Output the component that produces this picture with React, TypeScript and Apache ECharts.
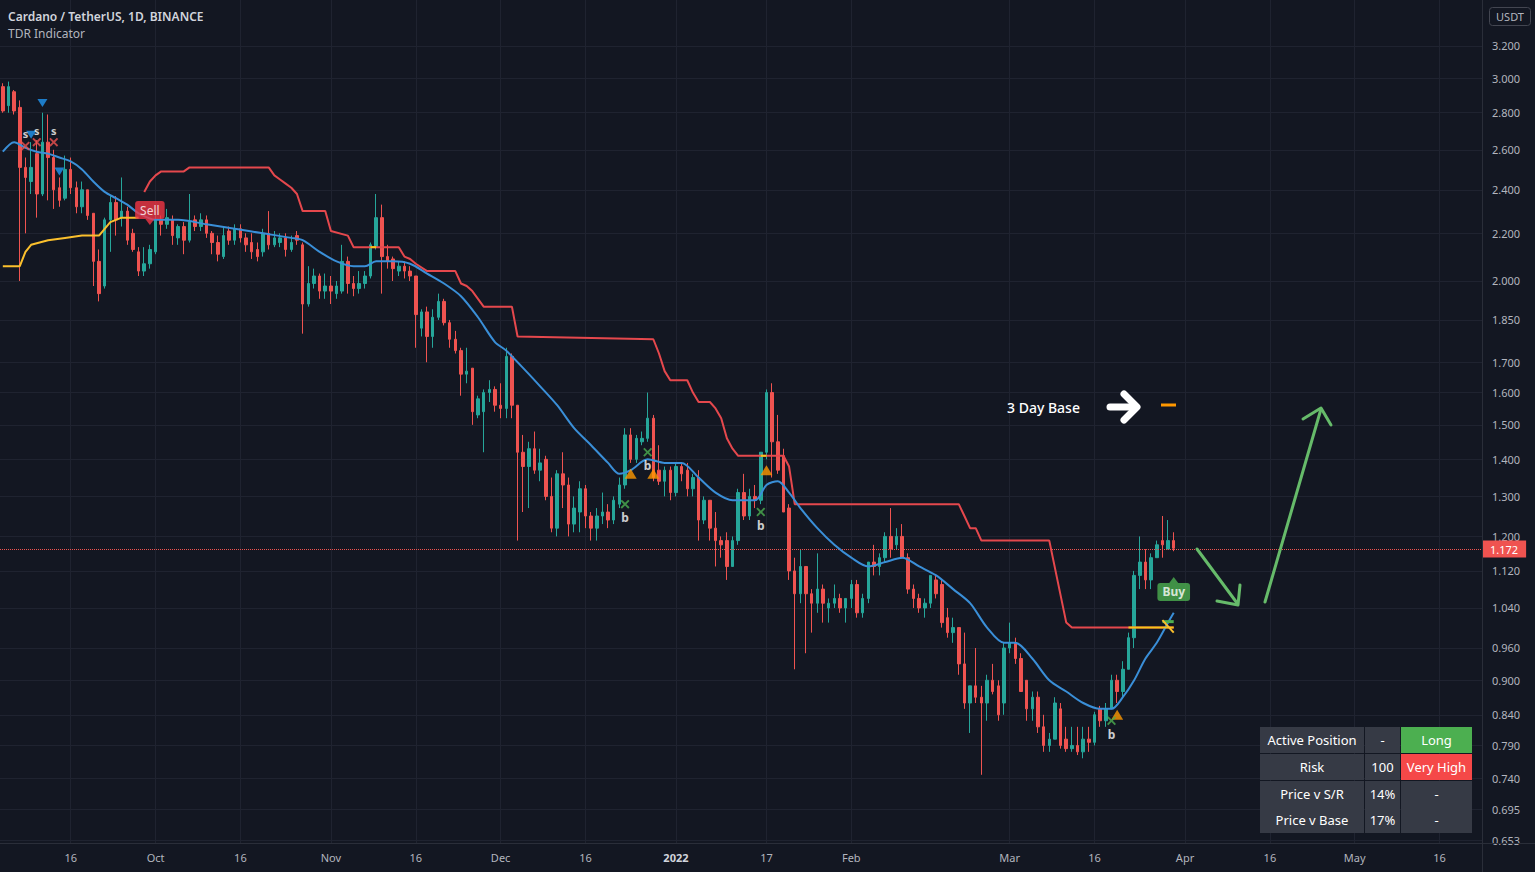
import React, { useEffect, useRef } from "react";
import * as echarts from "echarts";

const FONT = '"Noto Sans", "DejaVu Sans", sans-serif';
const BG = "#131722";
const TXT = "#b2b5be";
const GRID = "#1f2330";
const UP = "#26a69a";
const DOWN = "#ef5350";

const firstDay = "2021-09-04";
const dayCount = 262;

function makeCategories(start: string, n: number): string[] {
  const out: string[] = [];
  const t0 = Date.parse(start + "T00:00:00Z");
  for (let i = 0; i < n; i++) out.push(new Date(t0 + i * 86400000).toISOString().slice(0, 10));
  return out;
}
const categories = makeCategories(firstDay, dayCount);

const timeLabels: [string, string][] = [
  ["2021-09-16", "16"], ["2021-10-01", "Oct"], ["2021-10-16", "16"], ["2021-11-01", "Nov"],
  ["2021-11-16", "16"], ["2021-12-01", "Dec"], ["2021-12-16", "16"], ["2022-01-01", "2022"],
  ["2022-01-17", "17"], ["2022-02-01", "Feb"], ["2022-03-01", "Mar"], ["2022-03-16", "16"],
  ["2022-04-01", "Apr"], ["2022-04-16", "16"], ["2022-05-01", "May"], ["2022-05-16", "16"],
];

const priceTicks = [3.2, 3.0, 2.8, 2.6, 2.4, 2.2, 2.0, 1.85, 1.7, 1.6, 1.5, 1.4, 1.3, 1.2, 1.12, 1.04, 0.96, 0.9, 0.84, 0.79, 0.74, 0.695, 0.653];

// [open, close, low, high]
const sep = [
  [2.95, 2.81, 2.8, 2.97], [2.84, 2.95, 2.8, 2.98], [2.92, 2.81, 2.79, 2.93], [2.83, 2.51, 2.0, 2.87],
  [2.51, 2.46, 2.2, 2.56], [2.44, 2.51, 2.38, 2.64], [2.58, 2.38, 2.27, 2.65], [2.38, 2.64, 2.37, 2.8],
  [2.64, 2.56, 2.35, 2.79], [2.56, 2.4, 2.31, 2.6], [2.41, 2.35, 2.32, 2.46], [2.36, 2.5, 2.35, 2.57],
  [2.5, 2.41, 2.38, 2.56], [2.41, 2.32, 2.29, 2.44], [2.32, 2.4, 2.29, 2.44], [2.4, 2.28, 2.26, 2.4],
  [2.29, 2.08, 1.98, 2.29], [2.08, 1.95, 1.92, 2.13], [1.98, 2.26, 1.97, 2.27], [2.26, 2.34, 2.12, 2.37],
  [2.34, 2.26, 2.19, 2.37], [2.27, 2.3, 2.23, 2.46], [2.3, 2.17, 2.15, 2.32], [2.2, 2.13, 2.12, 2.22],
  [2.12, 2.04, 2.02, 2.14], [2.04, 2.07, 2.02, 2.14], [2.07, 2.13, 2.05, 2.15],
];
const oct = [
  [2.12, 2.26, 2.11, 2.3], [2.26, 2.24, 2.19, 2.28], [2.24, 2.27, 2.22, 2.31], [2.26, 2.19, 2.15, 2.28],
  [2.18, 2.23, 2.15, 2.24], [2.23, 2.17, 2.11, 2.25], [2.17, 2.25, 2.16, 2.38], [2.26, 2.23, 2.21, 2.28],
  [2.23, 2.26, 2.21, 2.29], [2.26, 2.2, 2.18, 2.28], [2.2, 2.16, 2.11, 2.21], [2.16, 2.11, 2.08, 2.19],
  [2.1, 2.19, 2.09, 2.23], [2.21, 2.17, 2.15, 2.23], [2.17, 2.22, 2.15, 2.24], [2.22, 2.18, 2.16, 2.24],
  [2.18, 2.15, 2.12, 2.2], [2.16, 2.12, 2.09, 2.2], [2.13, 2.1, 2.08, 2.16], [2.12, 2.2, 2.1, 2.22],
  [2.2, 2.15, 2.13, 2.3], [2.15, 2.18, 2.14, 2.21], [2.16, 2.18, 2.14, 2.2], [2.18, 2.13, 2.1, 2.2],
  [2.13, 2.16, 2.12, 2.19], [2.19, 2.17, 2.15, 2.21], [2.15, 1.91, 1.8, 2.16], [1.91, 1.99, 1.9, 2.06],
  [1.99, 2.02, 1.97, 2.05], [2.02, 1.96, 1.93, 2.03], [1.96, 1.98, 1.93, 2.03],
];
const nov = [
  [1.98, 1.96, 1.91, 2.02], [1.95, 1.98, 1.93, 2.0], [1.96, 2.08, 1.95, 2.15], [2.08, 1.99, 1.95, 2.1],
  [1.99, 1.97, 1.94, 2.02], [1.97, 1.99, 1.95, 2.04], [1.99, 2.02, 1.97, 2.04], [2.02, 2.15, 2.01, 2.16],
  [2.14, 2.27, 2.13, 2.38], [2.27, 2.1, 1.95, 2.33], [2.1, 2.08, 2.05, 2.15], [2.09, 2.05, 2.0, 2.1],
  [2.04, 2.06, 2.02, 2.08], [2.06, 2.04, 2.01, 2.08], [2.04, 2.02, 2.0, 2.06], [2.02, 1.87, 1.75, 2.02],
  [1.82, 1.88, 1.79, 1.89], [1.88, 1.79, 1.7, 1.9], [1.79, 1.86, 1.75, 1.89], [1.86, 1.92, 1.85, 1.95],
  [1.92, 1.84, 1.83, 1.93], [1.84, 1.78, 1.75, 1.85], [1.78, 1.74, 1.73, 1.81], [1.74, 1.66, 1.59, 1.75],
  [1.66, 1.67, 1.63, 1.75], [1.68, 1.54, 1.5, 1.68], [1.53, 1.58, 1.52, 1.59], [1.54, 1.6, 1.42, 1.61],
  [1.6, 1.61, 1.57, 1.64], [1.61, 1.56, 1.54, 1.62],
];
const dec = [
  [1.56, 1.55, 1.52, 1.63], [1.55, 1.72, 1.52, 1.75], [1.72, 1.56, 1.52, 1.73], [1.56, 1.42, 1.19, 1.56],
  [1.42, 1.38, 1.26, 1.47], [1.38, 1.43, 1.27, 1.45], [1.43, 1.37, 1.36, 1.48], [1.37, 1.39, 1.34, 1.43],
  [1.4, 1.3, 1.29, 1.41], [1.3, 1.22, 1.21, 1.35], [1.22, 1.36, 1.2, 1.37], [1.36, 1.33, 1.27, 1.42],
  [1.33, 1.23, 1.2, 1.35], [1.23, 1.27, 1.21, 1.3], [1.26, 1.32, 1.21, 1.34], [1.32, 1.25, 1.22, 1.33],
  [1.25, 1.22, 1.19, 1.26], [1.22, 1.25, 1.19, 1.27], [1.25, 1.26, 1.23, 1.31], [1.26, 1.24, 1.22, 1.28],
  [1.24, 1.29, 1.23, 1.3], [1.28, 1.33, 1.27, 1.35], [1.33, 1.47, 1.32, 1.49], [1.47, 1.4, 1.39, 1.49],
  [1.4, 1.46, 1.39, 1.47], [1.45, 1.46, 1.44, 1.48], [1.46, 1.52, 1.45, 1.6], [1.52, 1.35, 1.34, 1.53],
  [1.37, 1.34, 1.33, 1.44], [1.34, 1.37, 1.3, 1.38], [1.37, 1.31, 1.29, 1.38],
];
const jan = [
  [1.31, 1.38, 1.3, 1.39], [1.38, 1.36, 1.34, 1.39], [1.37, 1.32, 1.3, 1.39], [1.32, 1.35, 1.3, 1.36],
  [1.35, 1.24, 1.19, 1.37], [1.24, 1.29, 1.23, 1.3], [1.29, 1.22, 1.19, 1.29], [1.22, 1.19, 1.13, 1.26],
  [1.19, 1.18, 1.15, 1.2], [1.19, 1.13, 1.1, 1.21], [1.13, 1.19, 1.13, 1.2], [1.19, 1.31, 1.18, 1.32],
  [1.31, 1.25, 1.24, 1.36], [1.25, 1.3, 1.24, 1.32], [1.3, 1.29, 1.27, 1.33], [1.29, 1.42, 1.28, 1.42],
  [1.42, 1.6, 1.4, 1.61], [1.6, 1.45, 1.35, 1.63], [1.45, 1.37, 1.36, 1.53], [1.41, 1.26, 1.26, 1.43],
  [1.27, 1.12, 1.1, 1.28], [1.12, 1.07, 0.92, 1.15], [1.07, 1.13, 1.05, 1.17], [1.13, 1.07, 0.95, 1.13],
  [1.07, 1.05, 0.99, 1.08], [1.05, 1.08, 1.03, 1.16], [1.08, 1.05, 1.01, 1.09], [1.04, 1.05, 1.01, 1.06],
  [1.05, 1.06, 1.04, 1.09], [1.06, 1.04, 1.03, 1.07], [1.04, 1.06, 1.01, 1.06],
];
const feb = [
  [1.06, 1.09, 1.04, 1.1], [1.09, 1.03, 1.02, 1.1], [1.03, 1.06, 1.02, 1.07], [1.06, 1.14, 1.05, 1.14],
  [1.14, 1.13, 1.11, 1.18], [1.13, 1.15, 1.11, 1.16], [1.15, 1.2, 1.14, 1.21], [1.2, 1.17, 1.15, 1.27],
  [1.18, 1.2, 1.17, 1.22], [1.2, 1.15, 1.15, 1.23], [1.15, 1.08, 1.07, 1.16], [1.08, 1.06, 1.04, 1.09],
  [1.06, 1.04, 1.03, 1.07], [1.04, 1.05, 1.02, 1.06], [1.05, 1.11, 1.04, 1.11], [1.1, 1.07, 1.06, 1.11],
  [1.09, 1.01, 1.0, 1.1], [1.02, 0.99, 0.98, 1.04], [0.99, 1.0, 0.97, 1.02], [1.0, 0.93, 0.91, 1.0],
  [0.93, 0.86, 0.85, 0.99], [0.86, 0.89, 0.81, 0.89], [0.89, 0.87, 0.86, 0.96], [0.87, 0.86, 0.745, 0.89],
  [0.86, 0.9, 0.83, 0.91], [0.9, 0.88, 0.875, 0.93], [0.89, 0.84, 0.83, 0.9], [0.86, 0.96, 0.84, 0.97],
];
const mar = [
  [0.96, 0.97, 0.95, 1.01], [0.97, 0.94, 0.93, 0.98], [0.94, 0.88, 0.88, 0.95], [0.9, 0.85, 0.83, 0.9],
  [0.85, 0.87, 0.83, 0.88], [0.87, 0.82, 0.81, 0.88], [0.82, 0.79, 0.78, 0.84], [0.79, 0.8, 0.78, 0.81],
  [0.8, 0.86, 0.8, 0.87], [0.85, 0.79, 0.785, 0.86], [0.8, 0.785, 0.78, 0.82], [0.785, 0.79, 0.78, 0.82],
  [0.79, 0.78, 0.775, 0.82], [0.78, 0.8, 0.77, 0.82], [0.8, 0.795, 0.78, 0.82], [0.795, 0.84, 0.79, 0.845],
  [0.85, 0.83, 0.82, 0.855], [0.83, 0.85, 0.82, 0.86], [0.85, 0.9, 0.85, 0.91], [0.9, 0.88, 0.86, 0.91],
  [0.88, 0.92, 0.87, 0.935], [0.92, 0.98, 0.92, 0.99], [0.98, 1.11, 0.96, 1.12], [1.11, 1.14, 1.08, 1.2],
  [1.14, 1.1, 1.08, 1.17], [1.1, 1.15, 1.08, 1.16], [1.15, 1.18, 1.15, 1.19], [1.19, 1.18, 1.15, 1.25],
  [1.17, 1.19, 1.17, 1.24], [1.19, 1.172, 1.165, 1.21],
];
const candles = [...sep, ...oct, ...nov, ...dec, ...jan, ...feb, ...mar];
const lastPrice = 1.172;

// trend line (blue)
const trendLine: [string, number][] = [
  ["2021-09-04", 2.59], ["2021-09-06", 2.64], ["2021-09-08", 2.61], ["2021-09-10", 2.59], ["2021-09-12", 2.58],
  ["2021-09-14", 2.56], ["2021-09-16", 2.54], ["2021-09-18", 2.5], ["2021-09-20", 2.44], ["2021-09-22", 2.39],
  ["2021-09-24", 2.36], ["2021-09-26", 2.33], ["2021-09-28", 2.29], ["2021-10-01", 2.26], ["2021-10-05", 2.26],
  ["2021-10-10", 2.24], ["2021-10-15", 2.22], ["2021-10-20", 2.2], ["2021-10-25", 2.18], ["2021-10-27", 2.17],
  ["2021-10-30", 2.12], ["2021-11-02", 2.08], ["2021-11-05", 2.06], ["2021-11-07", 2.06], ["2021-11-09", 2.08],
  ["2021-11-12", 2.08], ["2021-11-15", 2.07], ["2021-11-18", 2.03], ["2021-11-21", 1.99], ["2021-11-24", 1.94],
  ["2021-11-27", 1.86], ["2021-11-30", 1.77], ["2021-12-02", 1.74], ["2021-12-05", 1.68], ["2021-12-08", 1.62],
  ["2021-12-11", 1.56], ["2021-12-14", 1.49], ["2021-12-17", 1.44], ["2021-12-20", 1.39], ["2021-12-22", 1.36],
  ["2021-12-24", 1.37], ["2021-12-27", 1.4], ["2021-12-30", 1.39], ["2022-01-02", 1.39], ["2022-01-05", 1.35],
  ["2022-01-08", 1.31], ["2022-01-11", 1.29], ["2022-01-15", 1.29], ["2022-01-17", 1.33], ["2022-01-19", 1.34],
  ["2022-01-21", 1.31], ["2022-01-23", 1.27], ["2022-01-26", 1.22], ["2022-01-29", 1.18], ["2022-02-01", 1.15],
  ["2022-02-04", 1.13], ["2022-02-07", 1.14], ["2022-02-10", 1.15], ["2022-02-13", 1.13], ["2022-02-16", 1.11],
  ["2022-02-19", 1.08], ["2022-02-22", 1.05], ["2022-02-25", 1.0], ["2022-02-28", 0.97], ["2022-03-02", 0.97],
  ["2022-03-05", 0.94], ["2022-03-08", 0.9], ["2022-03-11", 0.88], ["2022-03-14", 0.86], ["2022-03-17", 0.85],
  ["2022-03-19", 0.85], ["2022-03-21", 0.87], ["2022-03-23", 0.9], ["2022-03-25", 0.94], ["2022-03-27", 0.97],
  ["2022-03-29", 1.01], ["2022-03-30", 1.03],
];

// resistance line (red)
const resistanceLine: [string, number][] = [
  ["2021-09-29", 2.39], ["2021-09-30", 2.44], ["2021-10-01", 2.47], ["2021-10-02", 2.49], ["2021-10-06", 2.49],
  ["2021-10-07", 2.51], ["2021-10-21", 2.51], ["2021-10-22", 2.47], ["2021-10-23", 2.45], ["2021-10-24", 2.43],
  ["2021-10-25", 2.41], ["2021-10-26", 2.38], ["2021-10-27", 2.3], ["2021-10-31", 2.3], ["2021-11-01", 2.21],
  ["2021-11-04", 2.19], ["2021-11-05", 2.14], ["2021-11-13", 2.14], ["2021-11-14", 2.1], ["2021-11-15", 2.09],
  ["2021-11-16", 2.07], ["2021-11-18", 2.04], ["2021-11-23", 2.04], ["2021-11-24", 1.99], ["2021-11-25", 1.98],
  ["2021-11-26", 1.96], ["2021-11-27", 1.93], ["2021-11-28", 1.9], ["2021-12-03", 1.9], ["2021-12-04", 1.79],
  ["2021-12-28", 1.78], ["2021-12-29", 1.73], ["2021-12-30", 1.67], ["2021-12-31", 1.64], ["2022-01-03", 1.64],
  ["2022-01-04", 1.6], ["2022-01-05", 1.57], ["2022-01-07", 1.57], ["2022-01-08", 1.55], ["2022-01-09", 1.52],
  ["2022-01-10", 1.46], ["2022-01-11", 1.43], ["2022-01-12", 1.41], ["2022-01-20", 1.41], ["2022-01-21", 1.38],
  ["2022-01-22", 1.28], ["2022-02-20", 1.28], ["2022-02-21", 1.25], ["2022-02-22", 1.22], ["2022-02-23", 1.22],
  ["2022-02-24", 1.19], ["2022-03-08", 1.19], ["2022-03-11", 1.01], ["2022-03-12", 1.0], ["2022-03-30", 1.0],
];

// support line (yellow, September)
const supportLine: [string, number][] = [
  ["2021-09-04", 2.06], ["2021-09-07", 2.06], ["2021-09-08", 2.12], ["2021-09-09", 2.15], ["2021-09-12", 2.17],
  ["2021-09-15", 2.18], ["2021-09-18", 2.19], ["2021-09-21", 2.19], ["2021-09-22", 2.22], ["2021-09-23", 2.25],
  ["2021-09-25", 2.27], ["2021-09-28", 2.27],
];

// 3 day base segments
const baseSegments: [string, string, number][] = [
  ["2021-11-08", "2021-11-09", 2.14],
  ["2022-01-16", "2022-01-17", 1.41],
  ["2022-03-22", "2022-03-30", 1.0],
];

const sellSignals: [string, number][] = [["2021-09-08", 2.62], ["2021-09-10", 2.64], ["2021-09-13", 2.64]];
const bearTriangles: [string, number][] = [["2021-09-09", 2.68], ["2021-09-11", 2.855], ["2021-09-14", 2.49]];
const baseTriangles: [string, number][] = [["2021-12-24", 1.36], ["2021-12-28", 1.36], ["2022-01-17", 1.37], ["2022-03-20", 0.84]];
const buySignals: [string, number][] = [["2021-12-23", 1.28], ["2021-12-27", 1.42], ["2022-01-16", 1.26], ["2022-03-19", 0.83]];
const sellLabel: [string, number][] = [["2021-09-30", 2.25]];
const buyLabel: [string, number][] = [["2022-03-30", 1.1]];

const tableRows = [
  ["Active Position", "-", "Long"],
  ["Risk", "100", "Very High"],
  ["Price v S/R", "14%", "-"],
  ["Price v Base", "17%", "-"],
];
const tableFills = [
  ["#363a45", "#363a45", "#4caf50"],
  ["#363a45", "#363a45", "#f54848"],
  ["#363a45", "#363a45", "#363a45"],
  ["#363a45", "#363a45", "#363a45"],
];

const X_PATH = "path://M1.5,0 L5,3.5 L8.5,0 L10,1.5 L6.5,5 L10,8.5 L8.5,10 L5,6.5 L1.5,10 L0,8.5 L3.5,5 L0,1.5 Z";

export default function App() {
  const ref = useRef<HTMLDivElement>(null);
  useEffect(() => {
    if (!ref.current) return;
    const chart = echarts.init(ref.current, undefined, { renderer: "svg" });
    const labelMap = new Map(timeLabels);

    const lineBase = { type: "line", symbol: "none", showSymbol: false, silent: true, z: 3 };

    const tableGraphics: any[] = [];
    const colX = [1260, 1365, 1401];
    const colW = [104, 35, 71];
    const rowY = [727, 754, 781, 807];
    tableRows.forEach((row, r) => {
      row.forEach((txt, c) => {
        tableGraphics.push({
          type: "rect",
          shape: { x: colX[c], y: rowY[r], width: colW[c], height: 26 },
          style: { fill: tableFills[r][c] },
        });
        tableGraphics.push({
          type: "text",
          style: {
            x: colX[c] + colW[c] / 2, y: rowY[r] + 13, text: txt, fill: "#ffffff",
            font: `13px ${FONT}`, align: "center", verticalAlign: "middle",
          },
        });
      });
    });

    const graphics: any[] = [
      { type: "line", shape: { x1: 0, y1: 843.5, x2: 1535, y2: 843.5 }, style: { stroke: "#2a2e39", lineWidth: 1 } },
      { type: "line", shape: { x1: 1482.5, y1: 0, x2: 1482.5, y2: 872 }, style: { stroke: "#2a2e39", lineWidth: 1 } },
      {
        type: "text",
        style: { x: 8, y: 16, text: "Cardano / TetherUS, 1D, BINANCE", fill: "#d1d4dc", font: `600 12px ${FONT}`, verticalAlign: "middle" },
      },
      {
        type: "text",
        style: { x: 8, y: 33, text: "TDR Indicator", fill: TXT, font: `12px ${FONT}`, verticalAlign: "middle" },
      },
      {
        type: "rect", shape: { x: 1489.5, y: 7.5, width: 41, height: 18, r: 3 },
        style: { fill: BG, stroke: "#434651", lineWidth: 1 },
      },
      {
        type: "text",
        style: { x: 1510, y: 16.5, text: "USDT", fill: TXT, font: `11px ${FONT}`, align: "center", verticalAlign: "middle" },
      },
      {
        type: "text",
        style: { x: 1007, y: 407, text: "3 Day Base", fill: "#ffffff", font: `500 14px ${FONT}`, verticalAlign: "middle" },
      },
      {
        type: "polyline", shape: { points: [[1110, 407], [1135, 407]] },
        style: { stroke: "#ffffff", lineWidth: 7, lineCap: "round", fill: "none" },
      },
      {
        type: "polyline", shape: { points: [[1124, 394], [1137, 407], [1124, 420]] },
        style: { stroke: "#ffffff", lineWidth: 7, lineCap: "round", lineJoin: "round", fill: "none" },
      },
      {
        type: "line", shape: { x1: 1161, y1: 405, x2: 1176, y2: 405 },
        style: { stroke: "#ff9800", lineWidth: 3 },
      },
      {
        type: "polyline", shape: { points: [[1197, 549], [1237, 603]] },
        style: { stroke: "#66bb6a", lineWidth: 3, fill: "none", lineCap: "round" },
      },
      {
        type: "polyline", shape: { points: [[1217, 601], [1238, 605], [1240, 585]] },
        style: { stroke: "#66bb6a", lineWidth: 3, fill: "none", lineCap: "round", lineJoin: "round" },
      },
      {
        type: "polyline", shape: { points: [[1265, 602], [1321, 409]] },
        style: { stroke: "#66bb6a", lineWidth: 3, fill: "none", lineCap: "round" },
      },
      {
        type: "polyline", shape: { points: [[1303, 419], [1321, 408], [1331, 425]] },
        style: { stroke: "#66bb6a", lineWidth: 3, fill: "none", lineCap: "round", lineJoin: "round" },
      },
      ...tableGraphics,
    ].map((g) => ({ ...g, silent: true, z: 100, zlevel: 0 }));

    const option: any = {
      animation: false,
      backgroundColor: BG,
      textStyle: { fontFamily: FONT },
      grid: { left: 0, right: 53, top: 0, bottom: 29, containLabel: false },
      xAxis: {
        type: "category",
        data: categories,
        boundaryGap: true,
        axisLine: { show: false },
        axisTick: { show: false },
        splitLine: { show: false },
        axisLabel: {
          interval: (_i: number, v: string) => labelMap.has(v),
          formatter: (v: string) => {
            const t = labelMap.get(v) || "";
            return t === "2022" ? "{y|2022}" : t;
          },
          color: TXT,
          fontSize: 11,
          margin: 9,
          fontFamily: FONT,
          rich: { y: { color: "#d1d4dc", fontWeight: "bold", fontSize: 11, fontFamily: FONT } },
        },
      },
      yAxis: {
        type: "log",
        logBase: 10,
        min: 0.65,
        max: 3.508,
        position: "right",
        axisLine: { show: false },
        axisTick: { show: false, customValues: priceTicks },
        splitLine: { show: true, lineStyle: { color: GRID, width: 1 } },
        axisLabel: {
          customValues: priceTicks,
          formatter: (v: number) => Number(v).toFixed(3),
          color: TXT,
          fontSize: 11,
          margin: 10,
          fontFamily: FONT,
        },
      },
      series: [
        {
          type: "line",
          data: [],
          silent: true,
          z: 0,
          markLine: {
            z: 0,
            silent: true,
            symbol: ["none", "none"],
            label: { show: false },
            lineStyle: { color: GRID, width: 1, type: "solid" },
            data: timeLabels.map(([d]) => ({ xAxis: d })),
          },
        },
        {
          type: "candlestick",
          data: candles,
          barWidth: 3,
          z: 2,
          silent: true,
          itemStyle: { color: UP, color0: DOWN, borderColor: UP, borderColor0: DOWN, borderWidth: 1 },
          markLine: {
            z: 3,
            silent: true,
            symbol: ["none", "none"],
            lineStyle: { color: DOWN, width: 1, type: "dotted" },
            label: {
              show: true,
              position: "end",
              distance: 0,
              formatter: lastPrice.toFixed(3),
              backgroundColor: DOWN,
              color: "#ffffff",
              padding: [3, 8],
              fontSize: 11,
              fontFamily: FONT,
            },
            data: [{ yAxis: lastPrice }],
          },
        },
        { ...lineBase, data: supportLine, lineStyle: { color: "#fbc02d", width: 2 } },
        { ...lineBase, data: resistanceLine, lineStyle: { color: "#e5484d", width: 2 } },
        { ...lineBase, data: trendLine, smooth: 0.3, lineStyle: { color: "#3a8fd8", width: 2 } },
        ...baseSegments.map(([a, b, v]) => ({
          ...lineBase, z: 4, data: [[a, v], [b, v]], lineStyle: { color: "#f5c518", width: 2 },
        })),
        { ...lineBase, z: 5, data: [["2022-03-28", 1.012], ["2022-03-30", 1.012]], lineStyle: { color: "#4caf50", width: 3 } },
        { ...lineBase, z: 5, data: [["2022-03-28", 1.015], ["2022-03-30", 0.99]], lineStyle: { color: "#fbc02d", width: 2 } },
        {
          type: "scatter", z: 5, silent: true, data: bearTriangles,
          symbol: "triangle", symbolRotate: 180, symbolSize: [10, 8],
          itemStyle: { color: "#2196f3" },
        },
        {
          type: "scatter", z: 5, silent: true, data: sellSignals,
          symbol: X_PATH, symbolSize: 9, itemStyle: { color: "#ef5350" },
          label: { show: true, position: "top", distance: 2, formatter: "s", color: "#ffffff", fontSize: 11, fontWeight: "bold", fontFamily: FONT },
        },
        {
          type: "scatter", z: 5, silent: true, data: baseTriangles,
          symbol: "triangle", symbolSize: [12, 10], itemStyle: { color: "#ff9800" },
        },
        {
          type: "scatter", z: 5, silent: true, data: buySignals,
          symbol: X_PATH, symbolSize: 9, itemStyle: { color: "#4caf50" },
          label: { show: true, position: "bottom", distance: 3, formatter: "b", color: "#ffffff", fontSize: 12, fontWeight: "bold", fontFamily: FONT },
        },
        {
          type: "scatter", z: 6, silent: true, data: sellLabel,
          symbol: "triangle", symbolRotate: 180, symbolSize: [9, 6], itemStyle: { color: "#f23645" },
          label: {
            show: true, position: "top", distance: 0, formatter: "Sell", color: "#ffffff",
            backgroundColor: "#f23645", borderRadius: 3, padding: [3, 5], fontSize: 12, fontFamily: FONT,
          },
        },
        {
          type: "scatter", z: 6, silent: true, data: buyLabel,
          symbol: "triangle", symbolSize: [9, 6], itemStyle: { color: "#4caf50" },
          label: {
            show: true, position: "bottom", distance: 0, formatter: "Buy", color: "#ffffff",
            backgroundColor: "#4caf50", borderRadius: 3, padding: [3, 5], fontSize: 12, fontWeight: "bold", fontFamily: FONT,
          },
        },
      ],
      graphic: { elements: graphics },
    };

    chart.setOption(option);
    return () => chart.dispose();
  }, []);

  return (
    <div
      ref={ref}
      style={{ position: "fixed", left: 0, top: 0, width: 1535, height: 872, background: BG }}
    />
  );
}
